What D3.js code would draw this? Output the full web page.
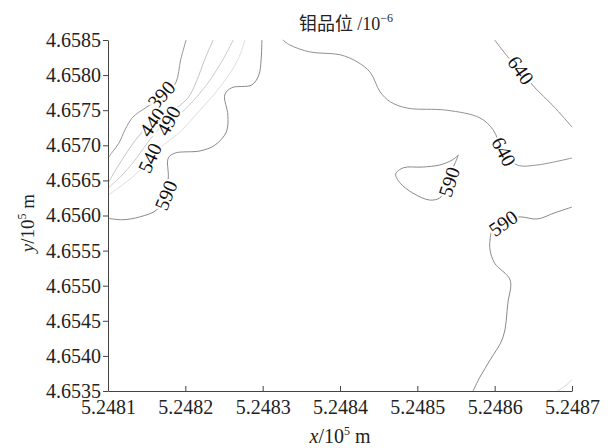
<!DOCTYPE html>
<html>
<head>
<meta charset="utf-8">
<script src="https://cdn.jsdelivr.net/npm/d3@7"></script>
<style>
  body { margin: 0; background: #fff; }
  svg { display: block; }
  .tick text { font-family: "Liberation Serif", "DejaVu Serif", serif; font-size: 20px; fill: #222; }
</style>
</head>
<body>
<div id="chart"></div>
<script>
// contour lines, points in metres [x, y]
const line390 = [[524820.1,465850],[524819.4,465822],[524818.8,465790],[524817.8,465776],[524816.5,465765],[524814.8,465753],[524813.2,465740],[524812.2,465722],[524811.4,465703],[524810.6,465691],[524810,465682]];
const line440 = [[524823.6,465850],[524822.5,465822],[524821.4,465790],[524820.3,465767],[524818.0,465747],[524816.1,465736],[524814.1,465715],[524812.5,465691],[524811.0,465665],[524810,465646]];
const line490 = [[524826.2,465850],[524824.7,465819],[524822.8,465787],[524820.9,465762],[524819.1,465743],[524817.5,465733],[524815.4,465708],[524813.5,465679],[524811.6,465655],[524810,465639]];
const line540 = [[524827.7,465850],[524826.8,465822],[524824.7,465786],[524821.9,465750],[524819.3,465719],[524816.7,465696],[524815.4,465682],[524813.9,465662],[524811.8,465643],[524810,465629]];
const line590a = [[524829.9,465850],[524829.8,465822],[524829.5,465800],[524828.6,465786],[524826.0,465782],[524825.1,465772],[524825.5,465743],[524825.3,465719],[524823.8,465700],[524821.9,465692],[524818.7,465689],[524817.8,465682],[524817.8,465655],[524817.5,465629],[524816.3,465608],[524814.1,465598],[524811.9,465594],[524810,465596]];
const line590b = [[524855.3,465686],[524854.9,465675],[524854.2,465658],[524853.6,465636],[524852.9,465625],[524851.6,465622],[524849.4,465632],[524847.8,465646],[524847.2,465659],[524848.2,465668],[524850.7,465669],[524852.9,465672],[524854.5,465679],[524855.3,465686]];
const line590c = [[524870,465612],[524867.8,465604],[524865.5,465595],[524863.3,465598],[524861.3,465594],[524859.7,465579],[524859.4,465565],[524859.4,465551],[524860.0,465532],[524862.0,465508],[524861.7,465475],[524861.1,465427],[524859.4,465394],[524858.1,465370],[524857.2,465350]];
const line640a = [[524832.6,465850],[524833.5,465843],[524836.1,465833],[524840.0,465829],[524842.2,465819],[524843.9,465804],[524845.2,465776],[524846.5,465762],[524848.7,465753],[524853.8,465750],[524858.1,465739],[524859.8,465722],[524861.1,465691],[524862.9,465672],[524865.5,465672],[524870,465682]];
const line640b = [[524860.0,465850],[524861.7,465826],[524863.3,465807],[524865.2,465782],[524867.5,465757],[524870,465726]];
const line540b = [[524868.1,465350],[524869.1,465357],[524870,465366]];

const contourLines = [
  {level: 390, pts: line390, color: "#959595"},
  {level: 440, pts: line440, color: "#c4c4c4"},
  {level: 490, pts: line490, color: "#cccccc"},
  {level: 540, pts: line540, color: "#dedede"},
  {level: 540, pts: line540b, color: "#d4d4d4"},
  {level: 590, pts: line590a, color: "#8a8a8a"},
  {level: 590, pts: line590b, color: "#8a8a8a"},
  {level: 590, pts: line590c, color: "#8a8a8a"},
  {level: 640, pts: line640a, color: "#929292"},
  {level: 640, pts: line640b, color: "#929292"}
];

// labels: [x, y, level, angle]
const labelPos = [
  [524816.9,465772,390,-48],
  [524815.7,465733,440,-55],
  [524817.8,465735,490,-62],
  [524815.4,465682,540,-65],
  [524817.5,465629,590,-68],
  [524854.1,465648,590,-72],
  [524863.4,465807,640,55],
  [524861.2,465691,640,62],
  [524861.1,465589,590,-35]
];

const xTicks = [524810,524820,524830,524840,524850,524860,524870];
const yTicks = [465350,465400,465450,465500,465550,465600,465650,465700,465750,465800,465850];

const W = 612, H = 448;
const svg = d3.select("#chart").append("svg").attr("width", W).attr("height", H);

const x = d3.scaleLinear().domain([524810, 524870]).range([108, 572]);
const y = d3.scaleLinear().domain([465350, 465850]).range([391, 40]);

const line = d3.line().x(d => x(d[0])).y(d => y(d[1])).curve(d3.curveCatmullRom);

svg.selectAll(".cline")
  .data(contourLines)
  .enter().append("path")
  .attr("class", "cline")
  .attr("d", d => line(d.pts))
  .attr("fill", "none")
  .attr("stroke", d => d.color)
  .attr("stroke-width", 1);

svg.selectAll(".clabel")
  .data(labelPos)
  .enter().append("text")
  .attr("class", "clabel")
  .attr("transform", d => "translate(" + x(d[0]) + "," + y(d[1]) + ") rotate(" + d[3] + ")")
  .attr("text-anchor", "middle")
  .attr("dy", "0.35em")
  .style("font-family", "'Liberation Serif', serif")
  .style("font-size", "20px")
  .attr("fill", "#111")
  .attr("stroke", "#fff")
  .attr("stroke-width", 4)
  .style("paint-order", "stroke")
  .text(d => d[2]);

const fmt = d => (d / 1e5).toFixed(4);

const xAxis = svg.append("g")
  .attr("transform", "translate(0,391)")
  .call(d3.axisBottom(x).tickValues(xTicks).tickFormat(fmt).tickSizeInner(-5).tickSizeOuter(0).tickPadding(9));
const yAxis = svg.append("g")
  .attr("transform", "translate(108,0)")
  .call(d3.axisLeft(y).tickValues(yTicks).tickFormat(fmt).tickSize(5).tickSizeOuter(0).tickPadding(2));

[xAxis, yAxis].forEach(g => {
  g.select(".domain").attr("stroke", "#444");
  g.selectAll(".tick line").attr("stroke", "#444");
});

// title
const title = svg.append("text")
  .attr("x", 346).attr("y", 30)
  .attr("text-anchor", "middle")
  .style("font-size", "18px")
  .attr("fill", "#222");
title.append("tspan").style("font-family", "'Noto Sans CJK SC', sans-serif").text("钼品位 ");
title.append("tspan").style("font-family", "'Liberation Serif', serif").text("/10");
title.append("tspan").style("font-family", "'Liberation Serif', serif").style("font-size", "12px").attr("dy", -8).text("−6");

// x axis label
const xl = svg.append("text")
  .attr("x", 340).attr("y", 443)
  .attr("text-anchor", "middle")
  .style("font-family", "'Liberation Serif', serif")
  .style("font-size", "20px")
  .attr("fill", "#222");
xl.append("tspan").style("font-style", "italic").text("x");
xl.append("tspan").text("/10");
xl.append("tspan").style("font-size", "12px").attr("dy", -8).text("5");
xl.append("tspan").attr("dy", 8).text(" m");

// y axis label
const yl = svg.append("text")
  .attr("transform", "translate(34,223) rotate(-90)")
  .attr("text-anchor", "middle")
  .style("font-family", "'Liberation Serif', serif")
  .style("font-size", "19px")
  .attr("fill", "#222");
yl.append("tspan").style("font-style", "italic").text("y");
yl.append("tspan").text("/10");
yl.append("tspan").style("font-size", "12px").attr("dy", -8).text("5");
yl.append("tspan").attr("dy", 8).text(" m");
</script>
</body>
</html>
